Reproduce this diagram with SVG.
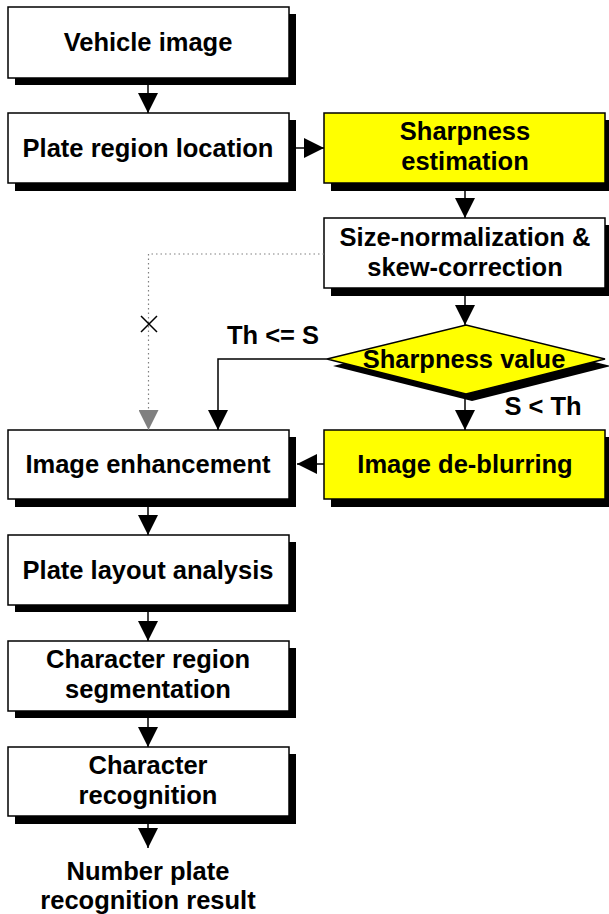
<svg xmlns="http://www.w3.org/2000/svg" width="609" height="914" viewBox="0 0 609 914">
<style>
.box{fill:#fff;stroke:#000;stroke-width:1.5}
.yel{fill:#ffff00;stroke:#000;stroke-width:1.5}
.sh{fill:#000}
text{font-family:"Liberation Sans",Arial,sans-serif;font-weight:bold;font-size:25.5px;fill:#000;text-anchor:middle}
.ln{stroke:#000;stroke-width:1.5;fill:none}
.dot{stroke:#808080;stroke-width:1.2;fill:none;stroke-dasharray:1.5 3}
</style>
<defs>
<marker id="ah" markerUnits="userSpaceOnUse" markerWidth="20" markerHeight="20" viewBox="0 0 20 20" refX="20" refY="10" orient="auto">
<path d="M0,0 L20,10 L0,20 Z" fill="#000"/>
</marker>
<marker id="ahg" markerUnits="userSpaceOnUse" markerWidth="20" markerHeight="20" viewBox="0 0 20 20" refX="20" refY="10" orient="auto">
<path d="M0,0 L20,10 L0,20 Z" fill="#808080"/>
</marker>
</defs>
<g id="n1"><rect class="sh" x="15" y="14" width="281" height="71"/><rect class="box" x="8" y="7" width="281" height="71"/><text x="148" y="51">Vehicle image</text></g>
<g id="n2"><rect class="sh" x="15" y="120" width="281" height="71"/><rect class="box" x="8" y="113" width="281" height="70"/><text x="148" y="157">Plate region location</text></g>
<g id="n3"><rect class="sh" x="331" y="120" width="281" height="71"/><rect class="yel" x="324" y="113" width="281" height="70"/><text x="465" y="140">Sharpness</text><text x="465" y="170">estimation</text></g>
<g id="n4"><rect class="sh" x="331" y="225" width="281" height="71"/><rect class="box" x="324" y="218" width="281" height="70"/><text x="465" y="246">Size-normalization &amp;</text><text x="465" y="276">skew-correction</text></g>
<g id="n5"><polygon class="sh" points="333,366 472,332 611,366 472,401"/><polygon class="yel" points="327,359 466,325 605,359 466,394"/><text x="464" y="368">Sharpness value</text></g>
<g id="n6"><rect class="sh" x="331" y="437" width="281" height="70"/><rect class="yel" x="324" y="430" width="281" height="69"/><text x="465" y="473">Image de-blurring</text></g>
<g id="n7"><rect class="sh" x="15" y="437" width="281" height="70"/><rect class="box" x="8" y="430" width="281" height="69"/><text x="148" y="473">Image enhancement</text></g>
<g id="n8"><rect class="sh" x="15" y="542" width="281" height="70"/><rect class="box" x="8" y="535" width="281" height="70"/><text x="148" y="579">Plate layout analysis</text></g>
<g id="n9"><rect class="sh" x="15" y="648" width="281" height="70"/><rect class="box" x="8" y="641" width="281" height="70"/><text x="148" y="668">Character region</text><text x="148" y="698">segmentation</text></g>
<g id="n10"><rect class="sh" x="15" y="754" width="281" height="70"/><rect class="box" x="8" y="747" width="281" height="69"/><text x="148" y="774">Character</text><text x="148" y="804">recognition</text></g>
<g id="n11"><text x="148" y="880">Number plate</text><text x="148" y="909">recognition result</text></g>
<g id="connectors">
<line class="ln" x1="148" y1="78" x2="148" y2="113" marker-end="url(#ah)"/>
<line class="ln" x1="289" y1="148" x2="324" y2="148" marker-end="url(#ah)"/>
<line class="ln" x1="465" y1="183" x2="465" y2="218" marker-end="url(#ah)"/>
<line class="ln" x1="465" y1="288" x2="465" y2="325" marker-end="url(#ah)"/>
<line class="ln" x1="465" y1="394" x2="465" y2="430" marker-end="url(#ah)"/>
<polyline class="ln" points="327,359 218,359 218,430" marker-end="url(#ah)"/>
<line class="ln" x1="324" y1="464" x2="297" y2="464" marker-end="url(#ah)"/>
<polyline class="dot" points="324,254 148.5,254 148.5,430" marker-end="url(#ahg)"/>
<path d="M141,316 L157,332 M157,316 L141,332" stroke="#000" stroke-width="1.5"/>
<line class="ln" x1="148" y1="499" x2="148" y2="535" marker-end="url(#ah)"/>
<line class="ln" x1="148" y1="605" x2="148" y2="641" marker-end="url(#ah)"/>
<line class="ln" x1="148" y1="711" x2="148" y2="747" marker-end="url(#ah)"/>
<line class="ln" x1="148" y1="816" x2="148" y2="848" marker-end="url(#ah)"/>
<text x="273" y="344">Th &lt;= S</text>
<text x="543" y="415">S &lt; Th</text>
</g>
</svg>
